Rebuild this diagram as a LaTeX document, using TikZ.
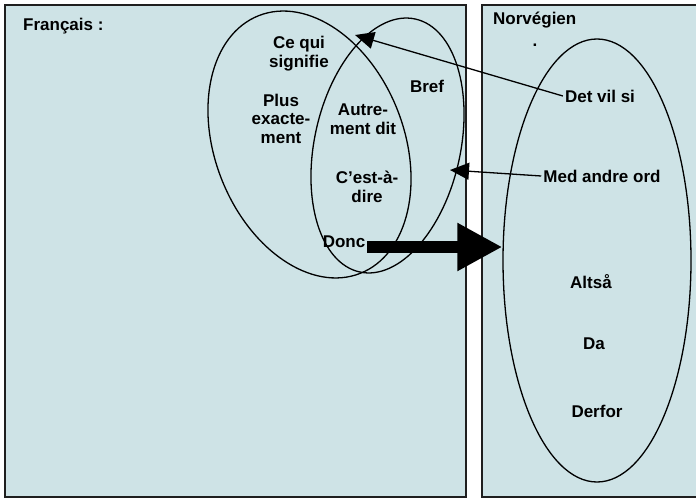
\documentclass[tikz,border=0pt]{standalone}
\usepackage{fontspec}
\setmainfont{Liberation Sans}
\usetikzlibrary{shapes.geometric, arrows.meta}

\definecolor{ling-PanneauColor}{rgb}{0.808,0.890,0.902}
\definecolor{ling-TraitColor}{rgb}{0.12,0.12,0.12}
\tikzstyle{ling-panneau}=[rectangle,
                          draw={ling-TraitColor},
                          line width=1.6pt,
                          fill={ling-PanneauColor}]
\tikzstyle{ling-ensemble}=[ellipse,
                           draw=black,
                           line width=1.3pt]
\tikzstyle{ling-mot}=[font=\bfseries\fontsize{17}{18.5}\selectfont,
                      align=center,
                      inner sep=2pt]
\tikzstyle{ling-fleche}=[draw=black, line width=1.3pt,
                         -{Triangle[length=19pt,width=17pt]}]
\tikzstyle{ling-grosse-fleche}=[draw=black, line width=12pt,
                                -{Triangle[length=45pt,width=45pt]}]

\begin{document}
\begin{tikzpicture}[x=1pt, y=-1pt]
    \useasboundingbox (0,0) rectangle (696,500);

    % Panneaux
    % --------------------------------------------------------------------------
    \node at (235.5, 251) (panneau_fr) [ling-panneau, minimum width=461pt, minimum height=492pt] {};
    \node at (590,   251) (panneau_no) [ling-panneau, minimum width=216pt, minimum height=492pt] {};

    \node at ( 21, 31) (titre_fr) [ling-mot, anchor=base west] {Français :};
    \node at (491, 25) (titre_no) [ling-mot, anchor=base west] {Norvégien};
    \node at (535, 47) (point_no) [ling-mot, anchor=base] {.};

    % Ensembles
    % --------------------------------------------------------------------------
    \node at (309.5, 144.5) (ens_fr)   [ling-ensemble, minimum width=189pt, minimum height=277pt, rotate=21.5] {};
    \node at (387.5, 145.5) (ens_bref) [ling-ensemble, minimum width=146pt, minimum height=259pt, rotate=-12.4] {};
    \node at (597,   260.5) (ens_no)   [ling-ensemble, minimum width=188pt, minimum height=443pt] {};

    % Mots
    % --------------------------------------------------------------------------
    \node at (299,  53.5) (ce_qui)    [ling-mot] {Ce qui\\signifie};
    \node at (281, 118.5) (plus_ex)   [ling-mot] {Plus\\exacte-\\ment};
    \node at (427,  86)   (bref)      [ling-mot] {Bref};
    \node at (363, 119)   (autrement) [ling-mot] {Autre-\\ment dit};
    \node at (367, 187)   (cestadire) [ling-mot] {C’est-à-\\dire};
    \node at (344, 242)   (donc)      [ling-mot] {Donc};

    \node at (600,  96) (detvilsi)    [ling-mot] {Det vil si};
    \node at (602, 176) (medandreord) [ling-mot] {Med andre ord};
    \node at (591, 282) (altsaa)      [ling-mot] {Altså};
    \node at (594, 344) (da)          [ling-mot] {Da};
    \node at (597, 411) (derfor)      [ling-mot] {Derfor};

    % Fleches
    % --------------------------------------------------------------------------
    \coordinate (pointe_fr)   at (355,  35);
    \coordinate (pointe_bref) at (450, 170);
    \coordinate (donc_sortie) at ([yshift=-5pt]donc.east);

    \draw[ling-fleche] (detvilsi.west)    -- (pointe_fr);
    \draw[ling-fleche] (medandreord.west) -- (pointe_bref);
    \draw[ling-grosse-fleche] (donc_sortie) -- (donc_sortie -| ens_no.west);

\end{tikzpicture}
\end{document}
